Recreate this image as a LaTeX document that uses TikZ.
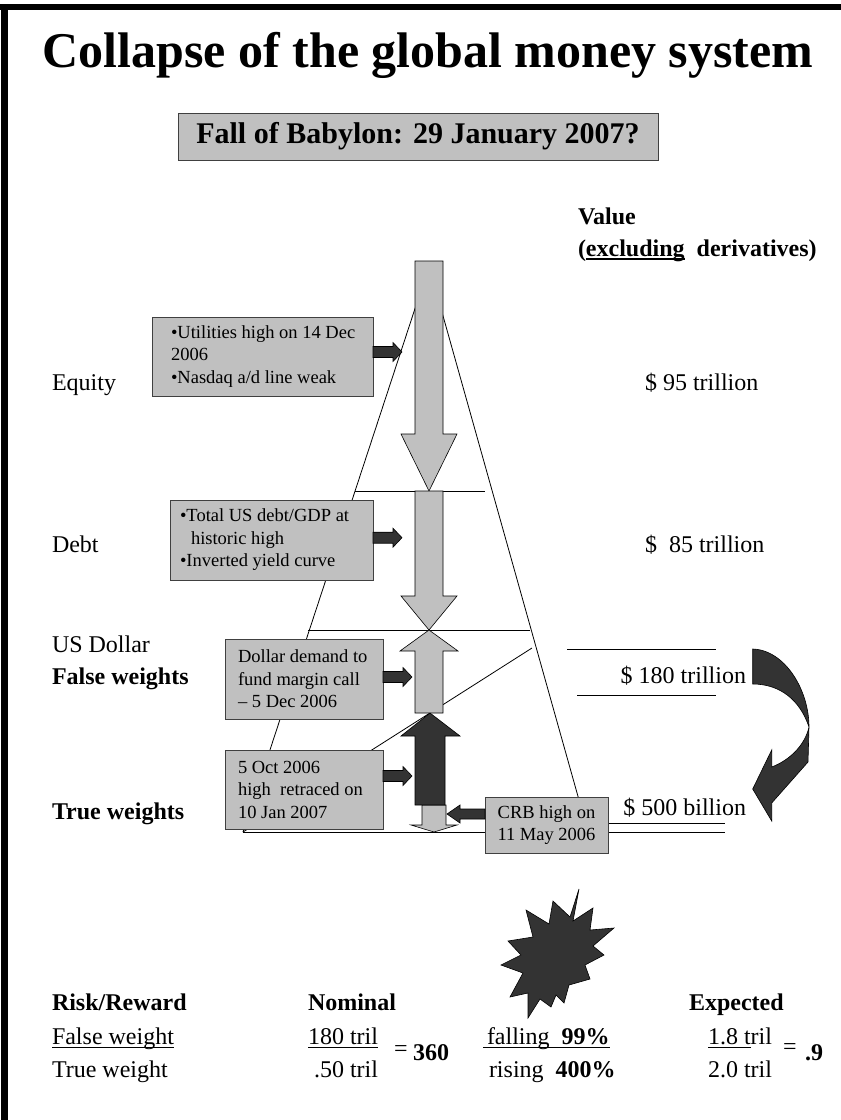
\documentclass[tikz,border=0pt]{standalone}
\usepackage{fontspec}
\setmainfont{Liberation Serif}
\usetikzlibrary{calc}
\definecolor{boxgray}{HTML}{C0C0C0}
\definecolor{boxedge}{HTML}{404040}
\definecolor{darkfill}{HTML}{333333}
% underline drawn through the descenders, as in a word processor
\newcommand\wordline[2][1.1pt]{\setbox0=\hbox{#2}\rlap{\rule[-4pt]{\wd0}{#1}}\box0}
% right-pointing block arrow from a start point
\newcommand\rblock[1]{\draw[darkarrow] #1 ++(0,-5.5) -- ++(20,0) -- ++(0,-4) -- ++(9,9.5) -- ++(-9,9.5) -- ++(0,-4) -- ++(-20,0) -- cycle;}
\begin{document}
\begin{tikzpicture}[x=1pt,y=-1pt,
  every node/.style={inner sep=0pt, outer sep=0pt},
  big/.style={font=\fontsize{24}{28}\selectfont},
  bigb/.style={font=\fontsize{24}{28}\selectfont\bfseries},
  note/.style={font=\fontsize{18.5}{22.5}\selectfont, align=left},
  infobox/.style={draw=boxedge, line width=0.8pt, fill=boxgray},
  blockarrow/.style={draw=black, line width=0.6pt, fill=boxgray, line join=miter},
  darkarrow/.style={draw=black, line width=0.6pt, fill=darkfill, line join=miter},
  thinline/.style={draw=black, line width=0.8pt},
]
\useasboundingbox (0,0) rectangle (841,1120);
\fill[white] (0,0) rectangle (841,1120);

% frame
\fill[black] (0,4) rectangle (841,10);
\fill[black] (1,4) rectangle (8,1120);

% title
\node[anchor=base, font=\fontsize{50}{56}\selectfont\bfseries] (title) at (428,67) {Collapse of the global money system};
\node[infobox, minimum width=480pt, minimum height=47pt, font=\fontsize{30}{34}\selectfont\bfseries] (sub) at (418,136.5) {Fall of Babylon: 29 January 2007?};

% value header
\node[bigb, anchor=base west] (val) at (578,224) {Value};
\node[bigb, anchor=base west] (valx) at (578,256) {(\wordline[1.6pt]{excluding}\ \ derivatives)};

% pyramid
\coordinate (apex) at (429,266);
\coordinate (bl) at (243,832);
\coordinate (br) at (588,832);
\draw[thinline] (apex) -- (bl);
\draw[thinline] (apex) -- (br);
\coordinate (h1l) at (355,491); \coordinate (h1r) at (485,491);
\coordinate (h2l) at (308,630); \coordinate (h2r) at (530,630);
\coordinate (baser) at (725,832);
\coordinate (ul5l) at (590,823); \coordinate (ul5r) at (725,823);
\coordinate (slant) at (532,648);
\draw[thinline] (h1l) -- (h1r);
\draw[thinline] (h2l) -- (h2r);
\draw[thinline] (bl) -- (baser);
\draw[thinline] (ul5l) -- (ul5r);
\draw[thinline] (bl) -- (slant);

% lines around the 180 trillion figure
\coordinate (ul1l) at (567,649); \coordinate (ul1r) at (716,649);
\coordinate (ul2l) at (577,695); \coordinate (ul2r) at (716,695);
\draw[thinline] (ul1l) -- (ul1r);
\draw[thinline] (ul2l) -- (ul2r);

% central column of arrows
\draw[blockarrow] (415,261) -- (443,261) -- (443,434) -- (457,434) -- (429,491) -- (401,434) -- (415,434) -- cycle;
\draw[blockarrow] (415,491) -- (443,491) -- (443,596) -- (457,596) -- (429,630) -- (401,596) -- (415,596) -- cycle;
\draw[blockarrow] (429,630) -- (458,651) -- (443,651) -- (443,713) -- (415,713) -- (415,651) -- (400,651) -- cycle;
\draw[blockarrow] (422,805) -- (446,805) -- (446,825) -- (457,825) -- (434,832) -- (411,825) -- (422,825) -- cycle;
\draw[darkarrow] (430,713) -- (460,736) -- (445,736) -- (445,805) -- (415,805) -- (415,736) -- (401,736) -- cycle;

% row labels
\node[big, anchor=base west] (eq) at (52,390) {Equity};
\node[big, anchor=base west] (debt) at (52,552) {Debt};
\node[big, anchor=base west] (usd) at (52,652) {US Dollar};
\node[bigb, anchor=base west] (fw) at (52,684) {False weights};
\node[bigb, anchor=base west] (tw) at (52,819) {True weights};

% values
\node[big, anchor=base west] (v95) at (645,390) {\$ 95 trillion};
\node[big, anchor=base west] (v85) at (645,552) {\$\ \ 85 trillion};
\node[big, anchor=base east] (v180) at (746,683) {\$ 180 trillion};
\node[big, anchor=base east] (v500) at (746,815) {\$ 500 billion};

% note boxes
\node[infobox, minimum width=221pt, minimum height=79pt] (b1) at (262.5,356.5) {};
\node[note, anchor=west] (b1t) at ($(b1.west)+(19,0)$) {\textbullet Utilities high on 14 Dec\\2006\\\textbullet Nasdaq a/d line weak};
\node[infobox, minimum width=203pt, minimum height=80pt] (b2) at (271.5,540) {};
\node[note, anchor=west] (b2t) at ($(b2.west)+(10,0)$) {\textbullet Total US debt/GDP at\\\hspace*{11pt}historic high\\\textbullet Inverted yield curve};
\node[infobox, minimum width=158pt, minimum height=80pt] (b3) at (304,679) {};
\node[note, anchor=west] (b3t) at ($(b3.west)+(13,0)$) {Dollar demand to\\fund margin call\\– 5 Dec 2006};
\node[infobox, minimum width=158pt, minimum height=79pt] (b4) at (304,789.5) {};
\node[note, anchor=west] (b4t) at ($(b4.west)+(13,0)$) {5 Oct 2006\\high\ \ retraced on\\10 Jan 2007};
\node[infobox, minimum width=123pt, minimum height=56pt, note, align=center] (crb) at (546.5,825) {CRB high on\\11 May 2006};

% pointers from the notes to the column
\rblock{($(b1.east)+(0,-4.5)$)}
\rblock{($(b2.east)+(0,-2.3)$)}
\rblock{($(b3.east)+(0,-2)$)}
\rblock{($(b4.east)+(0,-13.5)$)}
\draw[darkarrow] ($(crb.west)+(0,-11)$) ++(0,-5) -- ++(-25,0) -- ++(0,-4) -- ++(-13,9) -- ++(13,9) -- ++(0,-4) -- ++(25,0) -- cycle;

% twisted curved arrow from 180 trillion down to 500 billion
\draw[darkarrow] (752.7,649) .. controls (785,650) and (809,690) .. (809,727)
  -- (808,762) -- (771.7,803)
  -- (771.7,821) -- (752.7,789) -- (771.7,750) -- (771.7,767)
  .. controls (790,760) and (805,745) .. (809,727)
  .. controls (800,700) and (780,684) .. (752.7,684) -- cycle;

% explosion
\draw[darkarrow] (579,889) -- (570,917) -- (553,901) -- (549,924) -- (526,910) -- (533,937)
  -- (508,941) -- (521,955) -- (501,965) -- (523,973) -- (510,997) -- (528,993)
  -- (528,1018) -- (540,999) -- (551,1007) -- (556,995) -- (564,1003) -- (569,985)
  -- (590,979) -- (585,965) -- (604,955) -- (593,946) -- (614,928) -- (590,930)
  -- (593,908) -- (573,921) -- cycle;

% risk / reward table
\node[bigb, anchor=base west] (rr) at (52,1010) {Risk/Reward};
\node[bigb, anchor=base west] (nom) at (308,1010) {Nominal};
\node[bigb, anchor=base west] (exp) at (689,1010) {Expected};
\node[big, anchor=base west] (fwt) at (52,1044) {\wordline{False weight}};
\node[big, anchor=base west] (twt) at (52,1077) {True weight};
\node[big, anchor=base west] (n1) at (308,1044) {\wordline{180 tril}};
\node[big, anchor=base west] (n2) at (314,1077) {.50 tril};
\node[big, anchor=base west] (neq) at (394,1056) {=};
\node[bigb, anchor=base west] (nres) at (413,1060) {360};
\node[big, anchor=base west] (f1) at (483,1044) {\wordline{\,falling\ \ \textbf{99\%}}};
\node[big, anchor=base west] (f2) at (489,1077) {rising\ \ \textbf{400\%}};
\node[big, anchor=base west] (e1) at (708,1044) {\wordline{1.8 t}ril};
\node[big, anchor=base west] (e2) at (708,1077) {2.0 tril};
\node[big, anchor=base west] (eeq) at (783,1054) {=};
\node[bigb, anchor=base west] (eres) at (805,1060) {.9};
\end{tikzpicture}
\end{document}
